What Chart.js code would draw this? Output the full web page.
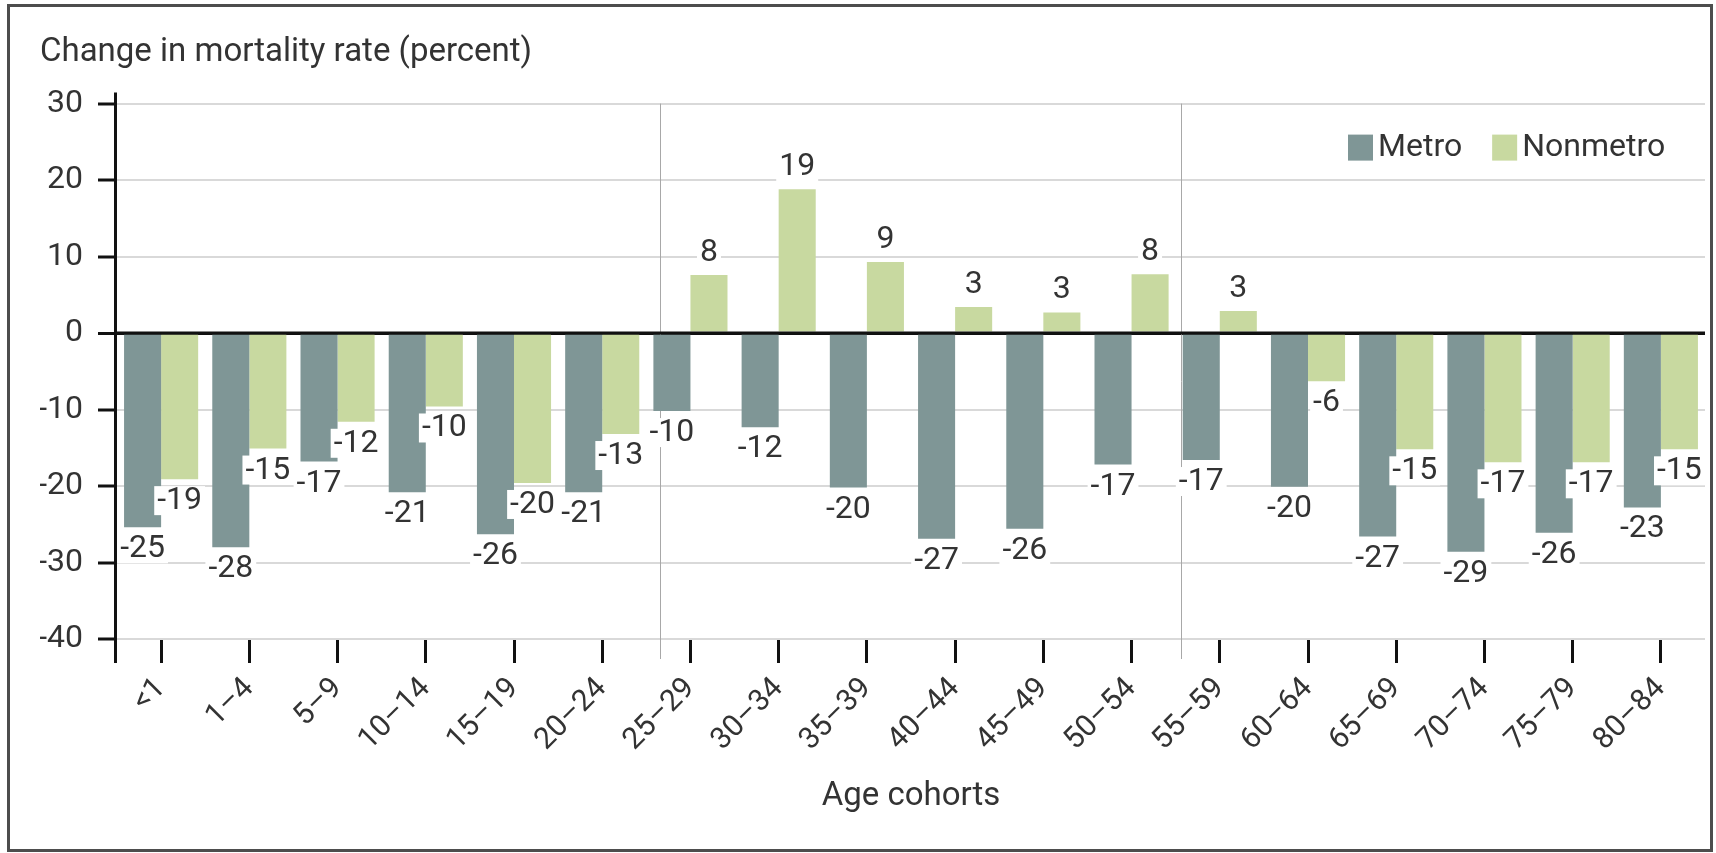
<!DOCTYPE html>
<html>
<head>
<meta charset="utf-8">
<script src="https://cdn.jsdelivr.net/npm/chart.js@4.4.1/dist/chart.umd.min.js"></script>
<style>
  html, body { margin: 0; padding: 0; background: #fff; }
  #wrap { position: relative; width: 1716px; height: 853px; }
  #frame { position: absolute; left: 7px; top: 4px; width: 1700px; height: 842px; border: 3px solid #4d4d4d; pointer-events: none; }
  canvas { position: absolute; left: 0; top: 0; }
</style>
</head>
<body>
<div id="wrap">
  <canvas id="chart" width="1716" height="853"></canvas>
  <div id="frame"></div>
</div>
<script>
const ageCohorts = ['<1', '1\u20134', '5\u20139', '10\u201314', '15\u201319', '20\u201324', '25\u201329', '30\u201334', '35\u201339',
  '40\u201344', '45\u201349', '50\u201354', '55\u201359', '60\u201364', '65\u201369', '70\u201374', '75\u201379', '80\u201384'];
const metroChange = [-25.4, -28.0, -16.8, -20.8, -26.3, -20.8, -10.2, -12.3, -20.2, -26.9, -25.6, -17.2, -16.6, -20.1, -26.6, -28.6, -26.1, -22.8];
const nonmetroChange = [-19.1, -15.1, -11.6, -9.6, -19.6, -13.2, 7.6, 18.8, 9.3, 3.4, 2.7, 7.7, 2.9, -6.3, -15.2, -16.9, -16.9, -15.2];

const FONT = 'Roboto';
const TEXT = '#333';

// separators, zero line, y axis line, bar labels and legend
const extras = {
  id: 'extras',
  beforeDatasetsDraw(chart) {
    const { ctx, chartArea: a, scales: { x } } = chart;
    ctx.save();
    ctx.strokeStyle = '#a8a8a8';
    ctx.lineWidth = 1;
    [5.66, 11.56].forEach(v => {
      const px = Math.round(x.getPixelForValue(v)) + 0.5;
      ctx.beginPath();
      ctx.moveTo(px, a.top);
      ctx.lineTo(px, a.bottom + 20);
      ctx.stroke();
    });
    ctx.restore();
  },
  afterDatasetsDraw(chart) {
    const { ctx, chartArea: a, scales: { y } } = chart;
    ctx.save();
    // zero line over bars
    const y0 = y.getPixelForValue(0);
    ctx.strokeStyle = '#111';
    ctx.lineWidth = 3;
    ctx.beginPath();
    ctx.moveTo(a.left, y0);
    ctx.lineTo(a.right, y0);
    ctx.stroke();

    // value labels
    ctx.font = '32px ' + FONT;
    ctx.textAlign = 'center';
    ctx.textBaseline = 'middle';
    chart.data.datasets.forEach((ds, di) => {
      chart.getDatasetMeta(di).data.forEach((bar, i) => {
        const v = ds.data[i];
        const txt = String(Math.round(v));
        const ly = v < 0 ? bar.y + 21 : bar.y - 23;
        const w = ctx.measureText(txt).width + 6;
        ctx.fillStyle = '#fff';
        ctx.fillRect(bar.x - w / 2, ly - 14, w, 29);
        ctx.fillStyle = TEXT;
        ctx.fillText(txt, bar.x, ly + 1);
      });
    });

    // y axis line
    ctx.strokeStyle = '#111';
    ctx.lineWidth = 3;
    ctx.beginPath();
    ctx.moveTo(a.left - 1.5, a.top - 11);
    ctx.lineTo(a.left - 1.5, a.bottom + 24);
    ctx.stroke();

    // legend
    ctx.font = '32px ' + FONT;
    ctx.textAlign = 'left';
    let lx = a.right - 357;
    const ly = a.top + 44;
    chart.data.datasets.forEach(ds => {
      ctx.fillStyle = ds.backgroundColor;
      ctx.fillRect(lx, ly - 13, 25, 26);
      lx += 30;
      ctx.fillStyle = TEXT;
      ctx.fillText(ds.label, lx, ly);
      lx += ctx.measureText(ds.label).width + 30;
    });
    ctx.restore();
  }
};

new Chart(document.getElementById('chart'), {
  type: 'bar',
  data: {
    labels: ageCohorts,
    datasets: [
      { label: 'Metro', data: metroChange, backgroundColor: '#7f9696' },
      { label: 'Nonmetro', data: nonmetroChange, backgroundColor: '#c8d9a0' }
    ]
  },
  options: {
    responsive: false,
    animation: false,
    devicePixelRatio: 1,
    datasets: { bar: { categoryPercentage: 0.84, barPercentage: 1.0 } },
    layout: { padding: { left: 40, right: 11, top: 0, bottom: 23 } },
    plugins: {
      legend: { display: false },
      tooltip: { enabled: false },
      title: {
        display: true,
        text: 'Change in mortality rate (percent)',
        align: 'start',
        color: TEXT,
        font: { family: FONT, size: 33, weight: 'normal' },
        padding: { top: 33, bottom: 31 }
      }
    },
    scales: {
      x: {
        border: { display: false },
        grid: { offset: false, drawOnChartArea: false, drawTicks: true, tickLength: 24, tickWidth: 3, tickColor: '#111' },
        ticks: { autoSkip: false, minRotation: 45, maxRotation: 45, padding: 8, color: TEXT, font: { family: FONT, size: 30 } },
        title: { display: true, text: 'Age cohorts', color: TEXT, font: { family: FONT, size: 33 }, padding: { top: 0, bottom: 13 } },
        afterFit: s => { s.height = 191; }
      },
      y: {
        min: -40,
        max: 30,
        border: { display: false },
        grid: {
          color: c => c.tick.value === 0 ? '#111' : '#d9d9d9',
          lineWidth: c => c.tick.value === 0 ? 3 : 2,
          tickColor: '#111',
          tickWidth: 3,
          tickLength: 19
        },
        ticks: { stepSize: 10, padding: 15, color: TEXT, font: { family: FONT, size: 32 } },
        afterFit: s => { s.width = 77; }
      }
    }
  },
  plugins: [extras]
});
</script>
</body>
</html>
